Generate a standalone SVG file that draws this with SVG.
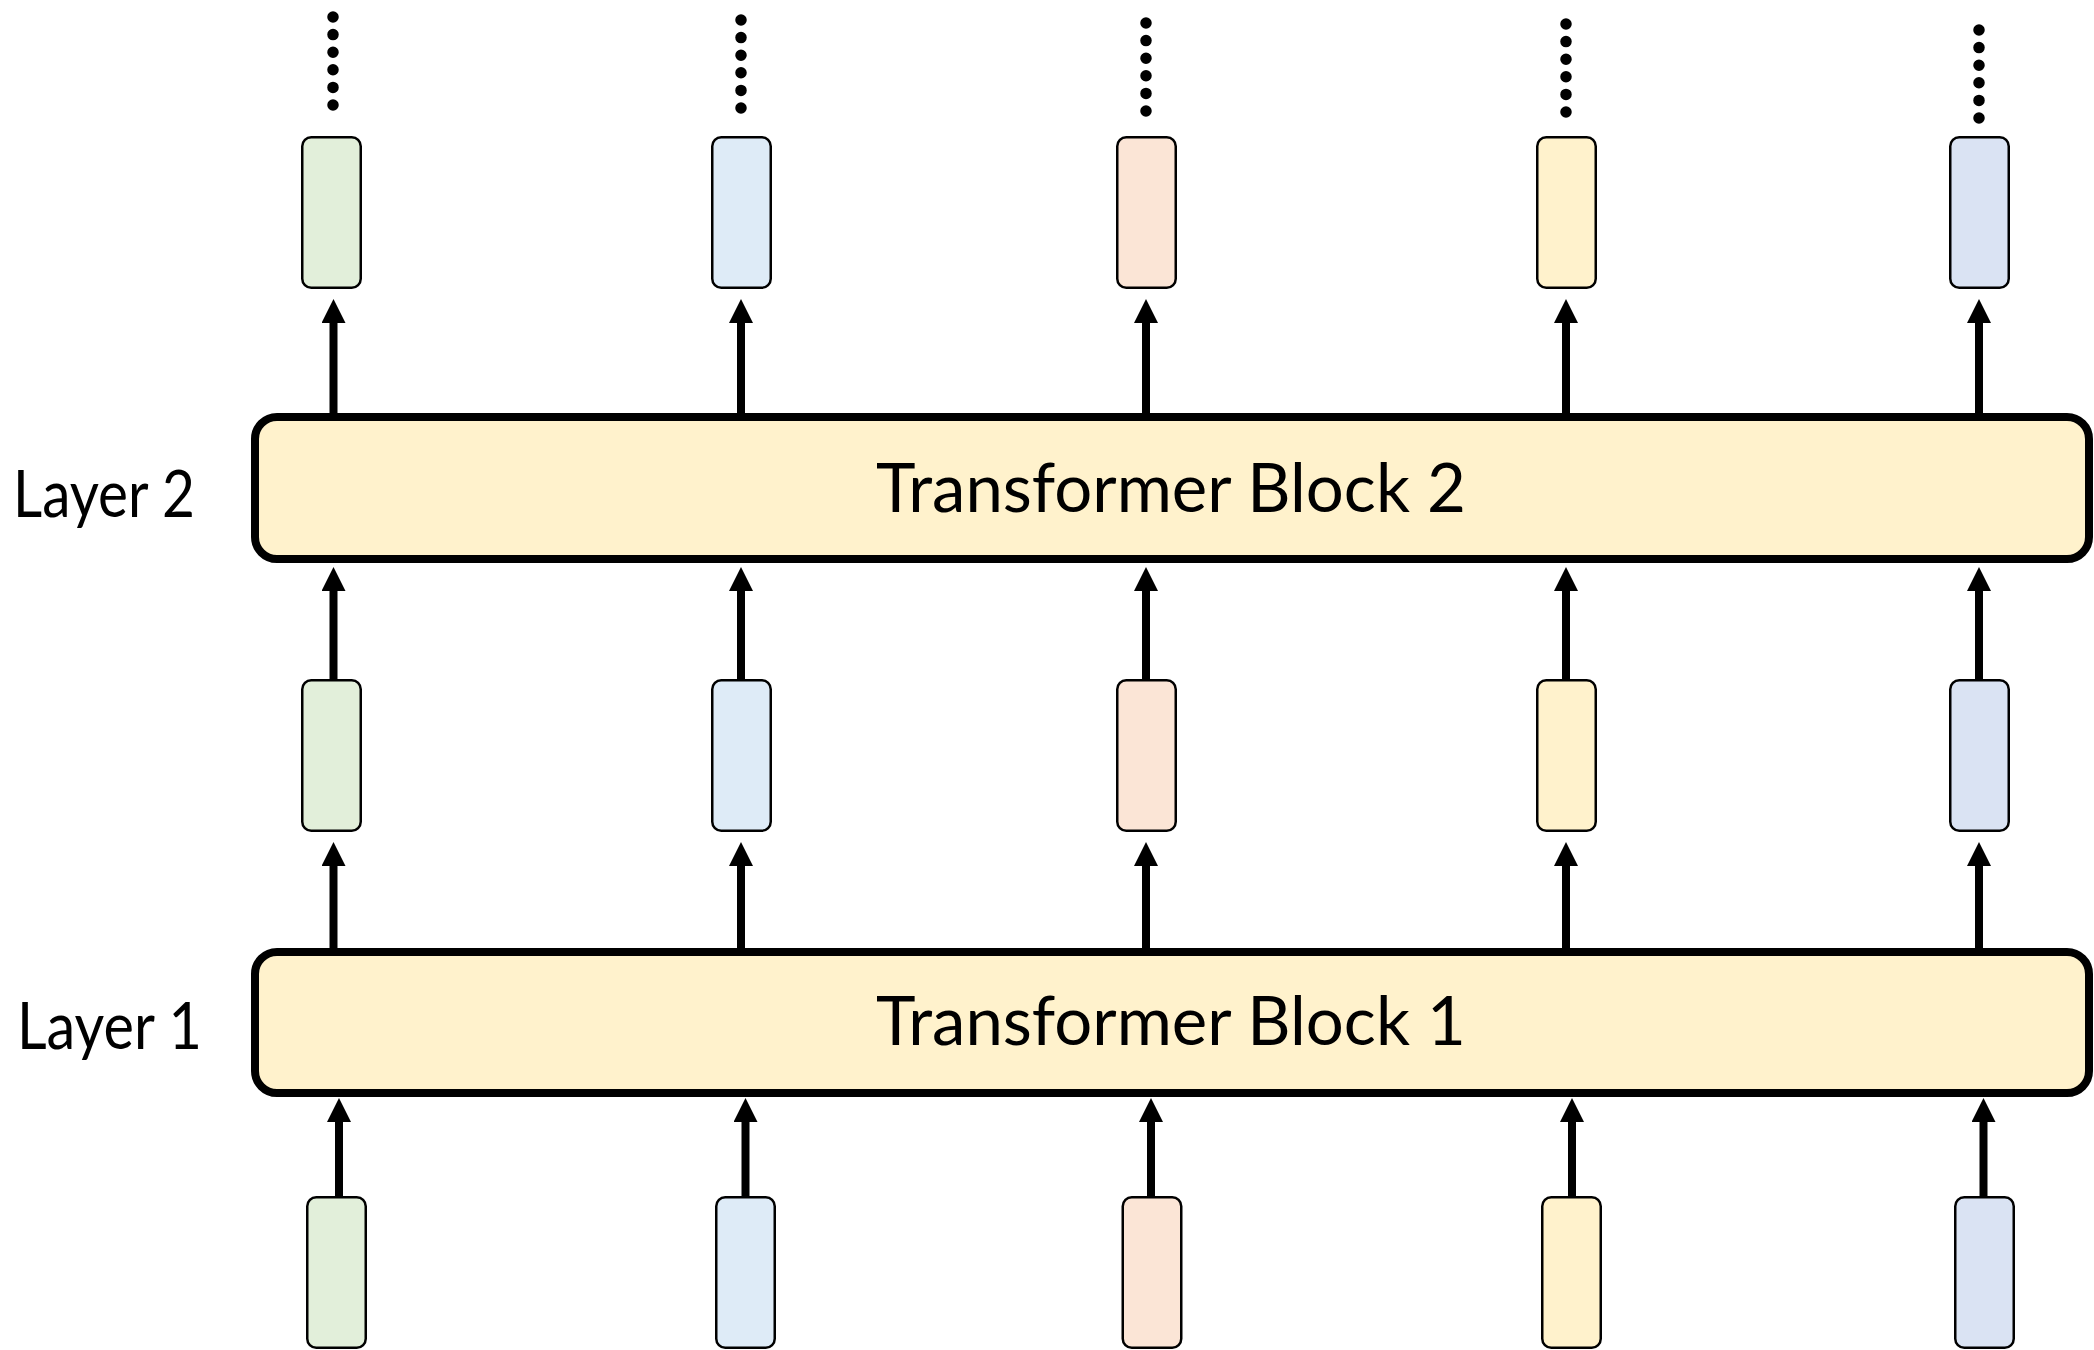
<svg xmlns="http://www.w3.org/2000/svg" width="2094" height="1350" viewBox="0 0 2094 1350">
  <defs>
    <marker id="head" markerUnits="userSpaceOnUse" markerWidth="24" markerHeight="24" refX="0" refY="12" orient="auto">
      <path d="M0,0 L24,12 L0,24 Z" fill="#000"/>
    </marker>
    <style>
      .block { fill: #FFF2CC; stroke: #000; stroke-width: 8; }
      .tok { stroke: #000; stroke-width: 2.5; }
      .c1 { fill: #E2EFDA; }
      .c2 { fill: #DEEBF7; }
      .c3 { fill: #FBE5D6; }
      .c4 { fill: #FFF2CC; }
      .c5 { fill: #DAE3F3; }
      .arrow { stroke: #000; stroke-width: 8; fill: none; marker-end: url(#head); }
      .dots { stroke: #000; stroke-width: 11.5; stroke-linecap: round; stroke-dasharray: 0 17.6; fill: none; }
      .blocktxt { font-family: Lato, "Open Sans", "Liberation Sans", sans-serif; font-size: 68px; fill: #000; }
      .label { font-family: Lato, "Open Sans", "Liberation Sans", sans-serif; font-size: 66px; fill: #000; }
    </style>
  </defs>
  <rect width="2094" height="1350" fill="#fff"/>

  <!-- transformer blocks -->
  <g id="block2">
    <rect class="block" x="255" y="417" width="1834" height="142" rx="22"/>
    <text class="blocktxt" x="876" y="512" textLength="590" lengthAdjust="spacingAndGlyphs">Transformer Block 2</text>
  </g>
  <g id="block1">
    <rect class="block" x="255" y="952" width="1834" height="141" rx="22"/>
    <text class="blocktxt" x="876" y="1045" textLength="590" lengthAdjust="spacingAndGlyphs">Transformer Block 1</text>
  </g>

  <!-- layer labels -->
  <g id="label-layer2">
    <text class="label" x="13" y="517" textLength="182" lengthAdjust="spacingAndGlyphs">Layer 2</text>
  </g>
  <g id="label-layer1">
    <text class="label" x="17" y="1049" textLength="185" lengthAdjust="spacingAndGlyphs">Layer 1</text>
  </g>

  <!-- output tokens (top row) -->
  <g id="out1"><rect class="tok c1" x="302.25" y="137.25" width="58.5" height="150.5" rx="9"/></g>
  <g id="out2"><rect class="tok c2" x="712.25" y="137.25" width="58.5" height="150.5" rx="9"/></g>
  <g id="out3"><rect class="tok c3" x="1117.25" y="137.25" width="58.5" height="150.5" rx="9"/></g>
  <g id="out4"><rect class="tok c4" x="1537.25" y="137.25" width="58.5" height="150.5" rx="9"/></g>
  <g id="out5"><rect class="tok c5" x="1950.25" y="137.25" width="58.5" height="150.5" rx="9"/></g>

  <!-- hidden states between the blocks -->
  <g id="mid1"><rect class="tok c1" x="302.25" y="680.25" width="58.5" height="150.5" rx="9"/></g>
  <g id="mid2"><rect class="tok c2" x="712.25" y="680.25" width="58.5" height="150.5" rx="9"/></g>
  <g id="mid3"><rect class="tok c3" x="1117.25" y="680.25" width="58.5" height="150.5" rx="9"/></g>
  <g id="mid4"><rect class="tok c4" x="1537.25" y="680.25" width="58.5" height="150.5" rx="9"/></g>
  <g id="mid5"><rect class="tok c5" x="1950.25" y="680.25" width="58.5" height="150.5" rx="9"/></g>

  <!-- input tokens (bottom row) -->
  <g id="in1"><rect class="tok c1" x="307.25" y="1197.25" width="58.5" height="150.5" rx="9"/></g>
  <g id="in2"><rect class="tok c2" x="716.25" y="1197.25" width="58.5" height="150.5" rx="9"/></g>
  <g id="in3"><rect class="tok c3" x="1122.75" y="1197.25" width="58.5" height="150.5" rx="9"/></g>
  <g id="in4"><rect class="tok c4" x="1542.25" y="1197.25" width="58.5" height="150.5" rx="9"/></g>
  <g id="in5"><rect class="tok c5" x="1955.25" y="1197.25" width="58.5" height="150.5" rx="9"/></g>

  <!-- connectors -->
  <g id="connectors">
    <!-- block 2 to outputs -->
    <line class="arrow" x1="333.5" y1="413" x2="333.5" y2="323"/>
    <line class="arrow" x1="741" y1="413" x2="741" y2="323"/>
    <line class="arrow" x1="1146" y1="413" x2="1146" y2="323"/>
    <line class="arrow" x1="1566" y1="413" x2="1566" y2="323"/>
    <line class="arrow" x1="1979" y1="413" x2="1979" y2="323"/>
    <!-- hidden states to block 2 -->
    <line class="arrow" x1="333.5" y1="680" x2="333.5" y2="591"/>
    <line class="arrow" x1="741" y1="680" x2="741" y2="591"/>
    <line class="arrow" x1="1146" y1="680" x2="1146" y2="591"/>
    <line class="arrow" x1="1566" y1="680" x2="1566" y2="591"/>
    <line class="arrow" x1="1979" y1="680" x2="1979" y2="591"/>
    <!-- block 1 to hidden states -->
    <line class="arrow" x1="333.5" y1="948" x2="333.5" y2="866"/>
    <line class="arrow" x1="741" y1="955" x2="741" y2="866"/>
    <line class="arrow" x1="1146" y1="948" x2="1146" y2="866"/>
    <line class="arrow" x1="1566" y1="955" x2="1566" y2="866"/>
    <line class="arrow" x1="1979" y1="948" x2="1979" y2="866"/>
    <!-- inputs to block 1 -->
    <line class="arrow" x1="339" y1="1197" x2="339" y2="1122"/>
    <line class="arrow" x1="745.5" y1="1197" x2="745.5" y2="1122"/>
    <line class="arrow" x1="1151" y1="1197" x2="1151" y2="1122"/>
    <line class="arrow" x1="1572" y1="1197" x2="1572" y2="1122"/>
    <line class="arrow" x1="1983.5" y1="1197" x2="1983.5" y2="1122"/>
    <!-- continuation dots above the outputs -->
    <line class="dots" x1="333" y1="17" x2="333" y2="106"/>
    <line class="dots" x1="741" y1="20" x2="741" y2="109"/>
    <line class="dots" x1="1146" y1="23" x2="1146" y2="112"/>
    <line class="dots" x1="1566" y1="24" x2="1566" y2="113"/>
    <line class="dots" x1="1979" y1="30" x2="1979" y2="119"/>
  </g>
</svg>
